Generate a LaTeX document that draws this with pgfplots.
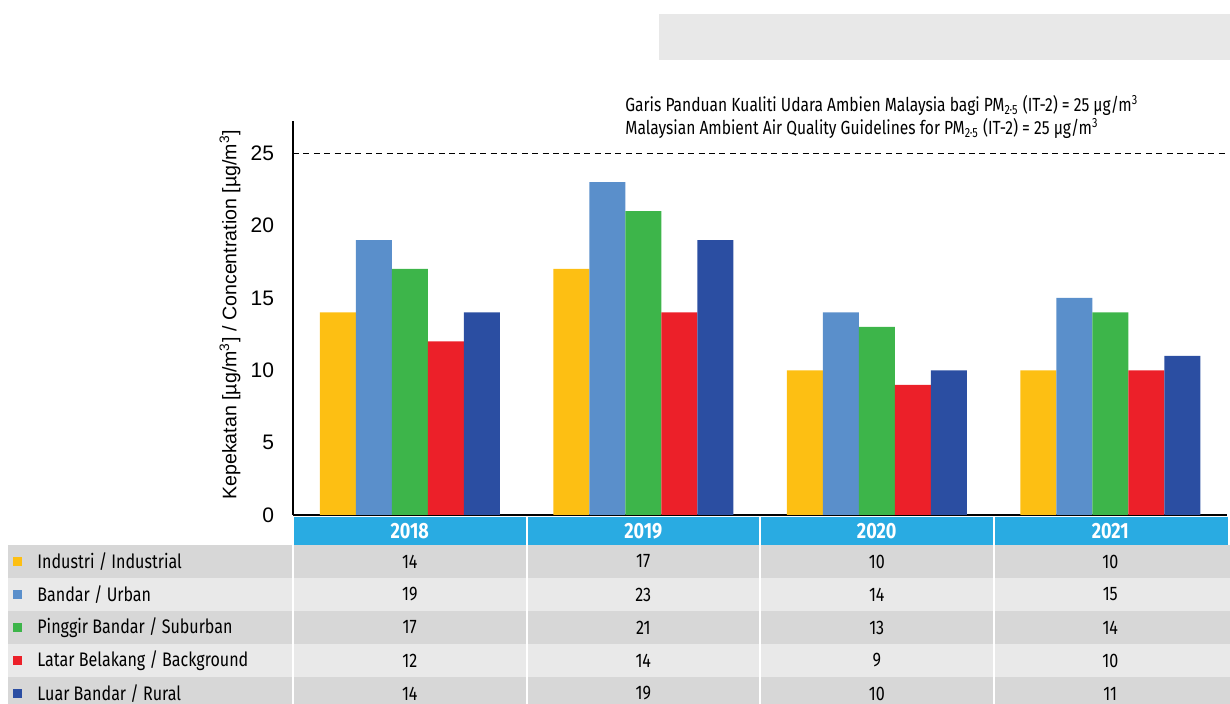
\documentclass[border=0pt]{standalone}
\usepackage{fontspec}
\setmainfont{Liberation Sans}
\newfontfamily\cond[FakeStretch=0.82]{Fira Sans}
\usepackage{pgfplots}
\usepackage{pgfplotstable}
\pgfplotsset{compat=1.18}
\definecolor{cInd}{HTML}{FDBF13}
\definecolor{cUrb}{HTML}{5A8FCB}
\definecolor{cSub}{HTML}{3DB54A}
\definecolor{cBg}{HTML}{EC2029}
\definecolor{cRur}{HTML}{2B4EA2}
\definecolor{hdr}{HTML}{29ABE2}
\definecolor{rowD}{HTML}{D7D7D7}
\definecolor{rowL}{HTML}{E9E9E9}
\definecolor{boxg}{HTML}{E8E8E8}
\pgfplotstableread{
x ind urb sub bg rur
0 14 19 17 12 14
1 17 23 21 14 19
2 10 14 13 9 10
3 10 15 14 10 11
}\data
\begin{document}
\begin{tikzpicture}
\path[use as bounding box] (0,0) rectangle (615pt,-352pt);
\begin{scope}[x=0.5pt,y=-0.5pt]
\fill[boxg] (659,14) rectangle (1230,60);
% header
\fill[hdr] (293,517) rectangle (1228,545);
% rows
\fill[rowD] (8,545) rectangle (1230,578);
\fill[rowL] (8,578) rectangle (1230,611);
\fill[rowD] (8,611) rectangle (1230,644);
\fill[rowL] (8,644) rectangle (1230,677);
\fill[rowD] (8,677) rectangle (1230,704);
% white separators
\foreach \s in {292.5,526.5,760,993.5} {\fill[white] (\s-1,517) rectangle (\s+1,704);}
% legend markers
\fill[cInd] (13,557) rectangle (22,566);
\fill[cUrb] (13,590) rectangle (22,599);
\fill[cSub] (13,623) rectangle (22,632);
\fill[cBg]  (13,656) rectangle (22,665);
\fill[cRur] (13,689) rectangle (22,698);
\begin{scope}[every node/.style={font=\cond\fontsize{9.8}{11}\selectfont, inner sep=0pt}]
\node[anchor=west] at (37,561.5) {Industri / Industrial};
\node[anchor=west] at (37,594.5) {Bandar / Urban};
\node[anchor=west] at (37,627.5) {Pinggir Bandar / Suburban};
\node[anchor=west] at (37,660.5) {Latar Belakang / Background};
\node[anchor=west] at (37,693.5) {Luar Bandar / Rural};
\foreach \c/\y in {409.75/2018, 643.25/2019, 876.75/2020, 1110.25/2021} {\node[text=white, font=\cond\bfseries\fontsize{11}{12}\selectfont] at (\c,531) {\y};}
\foreach \c/\a/\b/\d/\e/\f in {409.75/14/19/17/12/14, 643.25/17/23/21/14/19, 876.75/10/14/13/9/10, 1110.25/10/15/14/10/11} {
  \node at (\c,561.5) {\a};
  \node at (\c,594.5) {\b};
  \node at (\c,627.5) {\d};
  \node at (\c,660.5) {\e};
  \node at (\c,693.5) {\f};
}
\end{scope}
\node[anchor=base west, inner sep=0pt, font=\cond\fontsize{9.5}{11}\selectfont] at (625,112) {Garis Panduan Kualiti Udara Ambien Malaysia bagi PM\textsubscript{2·5} (IT-2) = 25 µg/m\textsuperscript{3}};
\node[anchor=base west, inner sep=0pt, font=\cond\fontsize{9.5}{11}\selectfont] at (625,135) {Malaysian Ambient Air Quality Guidelines for PM\textsubscript{2·5} (IT-2) = 25 µg/m\textsuperscript{3}};
\end{scope}
\begin{axis}[at={(146.5pt,-257.5pt)}, anchor=south west, scale only axis,
  width=467pt, height=196.8pt,
  xmin=-0.5, xmax=3.5, ymin=0, ymax=27.2,
  axis x line*=bottom, axis y line*=left, axis line style={-},
  x axis line style={line width=1.2pt}, y axis line style={line width=1pt},
  xtick=\empty, ytick={0,5,10,15,20,25}, major tick length=0,
  tick label style={font=\fontsize{10.5}{12}\selectfont},
  yticklabel style={xshift=-6pt},
  /pgf/number format/assume math mode=true,
  ylabel={Kepekatan [µg/m\textsuperscript{3}] / Concentration [µg/m\textsuperscript{3}]},
  ylabel style={at={(axis description cs:-0.0675,0.509)}, anchor=center, font=\fontsize{9.8}{11}\selectfont},
  clip=false]
\addplot[sharp plot, no marks, black, line width=0.5pt, dash pattern=on 3pt off 2.2pt] coordinates {(-0.5,25) (3.5,25)};
\addplot[ybar, bar width=18pt, bar shift=-36pt, fill=cInd, draw=none] table[x=x,y=ind] {\data};
\addplot[ybar, bar width=18pt, bar shift=-18pt, fill=cUrb, draw=none] table[x=x,y=urb] {\data};
\addplot[ybar, bar width=18pt, bar shift=0pt, fill=cSub, draw=none] table[x=x,y=sub] {\data};
\addplot[ybar, bar width=18pt, bar shift=18pt, fill=cBg, draw=none] table[x=x,y=bg] {\data};
\addplot[ybar, bar width=18pt, bar shift=36pt, fill=cRur, draw=none] table[x=x,y=rur] {\data};
\end{axis}
\end{tikzpicture}
\end{document}
